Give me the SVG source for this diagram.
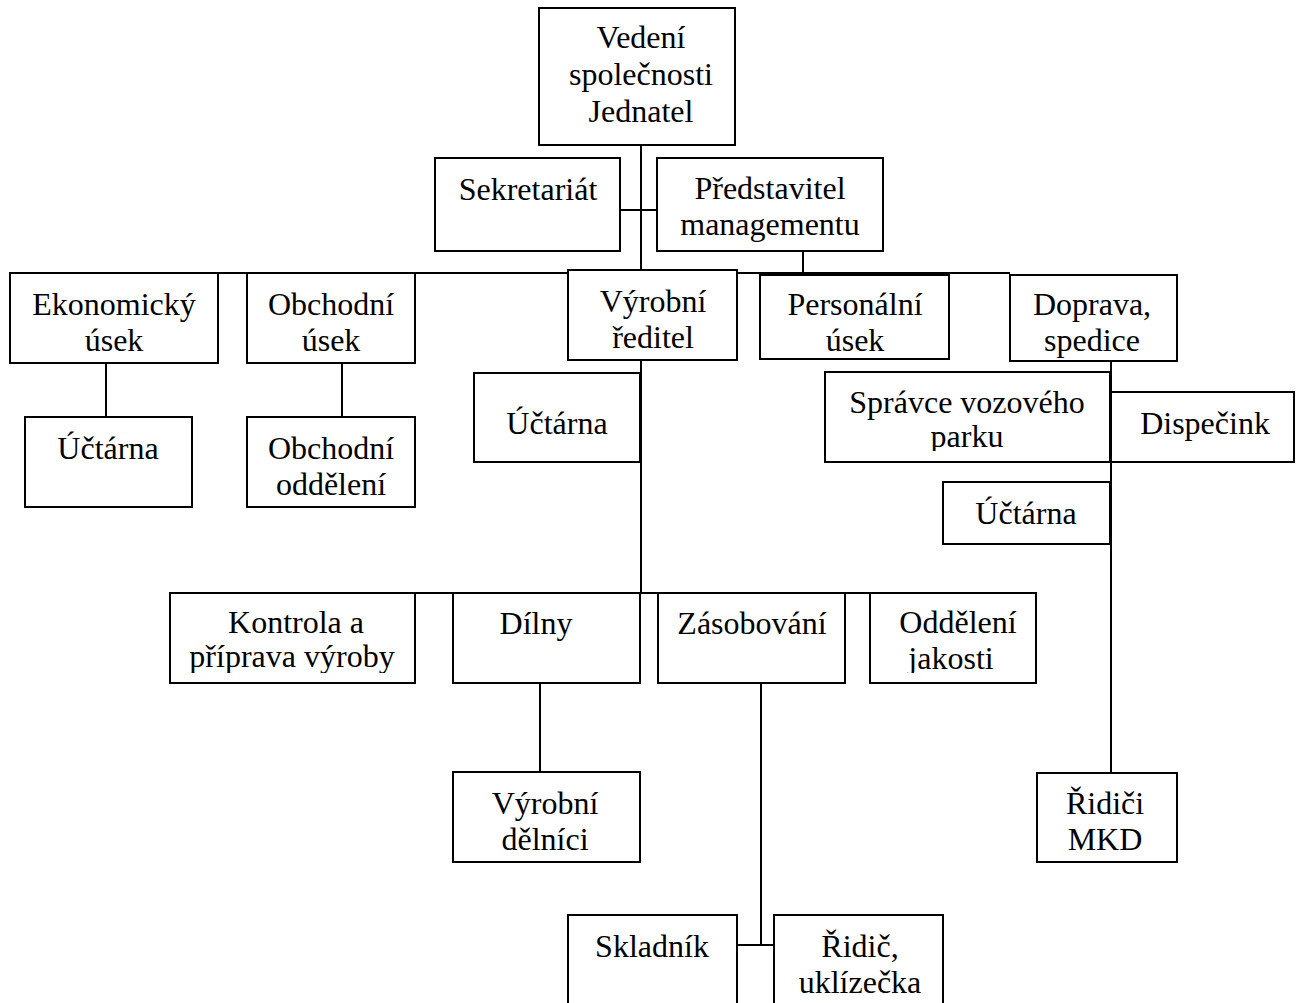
<svg xmlns="http://www.w3.org/2000/svg" width="1301" height="1003" viewBox="0 0 1301 1003">
<style>
.b{fill:#fff;stroke:#000;stroke-width:2}
.c{fill:none;stroke:#000;stroke-width:2}
text{font-family:"Liberation Serif","Times New Roman",serif;font-size:32px;fill:#000;text-anchor:middle}
</style>
<defs>
<clipPath id="cp1"><rect x="825" y="372" width="285" height="79"/></clipPath>
<clipPath id="cp2"><rect x="170" y="593" width="245" height="80"/></clipPath>
<clipPath id="cp3"><rect x="870" y="593" width="165" height="80"/></clipPath>
</defs>
<rect width="1301" height="1003" fill="#fff"/>
<g id="connectors">
<path class="c" d="M641,145V593"/>
<path class="c" d="M620,210H657"/>
<path class="c" d="M803,251V273"/>
<path class="c" d="M10,273H1010"/>
<path class="c" d="M106,363V417"/>
<path class="c" d="M342,360V417"/>
<path class="c" d="M170,593H1035"/>
<path class="c" d="M540,683V772"/>
<path class="c" d="M761,683V945"/>
<path class="c" d="M737,945H774"/>
<path class="c" d="M1111,361V773"/>
</g>
<g id="n_vedeni"><rect class="b" x="539" y="8" width="196" height="137"/><text x="641" y="48">Vedení</text><text x="641" y="85">společnosti</text><text x="641" y="122">Jednatel</text></g>
<g id="n_sekretariat"><rect class="b" x="435" y="158" width="185" height="93"/><text x="528" y="200">Sekretariát</text></g>
<g id="n_predstavitel"><rect class="b" x="657" y="158" width="226" height="93"/><text x="770" y="199">Představitel</text><text x="770" y="235">managementu</text></g>
<g id="n_ekonomicky"><rect class="b" x="10" y="273" width="208" height="90"/><text x="114" y="315">Ekonomický</text><text x="114" y="351">úsek</text></g>
<g id="n_obchodni"><rect class="b" x="247" y="273" width="168" height="90"/><text x="331" y="315">Obchodní</text><text x="331" y="351">úsek</text></g>
<g id="n_vyrobni"><rect class="b" x="568" y="270" width="169" height="90"/><text x="653" y="312">Výrobní</text><text x="653" y="348">ředitel</text></g>
<g id="n_personalni"><rect class="b" x="760" y="275" width="189" height="84"/><text x="855" y="315">Personální</text><text x="855" y="351">úsek</text></g>
<g id="n_doprava"><rect class="b" x="1010" y="275" width="167" height="86"/><text x="1092" y="315">Doprava,</text><text x="1092" y="351">spedice</text></g>
<g id="n_uctarna1"><rect class="b" x="25" y="417" width="167" height="90"/><text x="108" y="459">Účtárna</text></g>
<g id="n_obch_odd"><rect class="b" x="247" y="417" width="168" height="90"/><text x="331" y="459">Obchodní</text><text x="331" y="495">oddělení</text></g>
<g id="n_uctarna2"><rect class="b" x="474" y="373" width="166" height="89"/><text x="557" y="434">Účtárna</text></g>
<g id="n_spravce"><rect class="b" x="825" y="372" width="285" height="90"/><g clip-path="url(#cp1)"><text x="967" y="413">Správce vozového</text><text x="967" y="447">parku</text></g></g>
<g id="n_dispecink"><rect class="b" x="1111" y="392" width="183" height="70"/><text x="1205" y="434">Dispečink</text></g>
<g id="n_uctarna3"><rect class="b" x="943" y="482" width="167" height="62"/><text x="1026" y="524">Účtárna</text></g>
<g id="n_kontrola"><rect class="b" x="170" y="593" width="245" height="90"/><g clip-path="url(#cp2)"><text x="296" y="633">Kontrola a</text><text x="292" y="667">příprava výroby</text></g></g>
<g id="n_dilny"><rect class="b" x="453" y="593" width="187" height="90"/><text x="536" y="634">Dílny</text></g>
<g id="n_zasobovani"><rect class="b" x="658" y="593" width="187" height="90"/><text x="752" y="634">Zásobování</text></g>
<g id="n_jakost"><rect class="b" x="870" y="593" width="166" height="90"/><g clip-path="url(#cp3)"><text x="958" y="633">Oddělení</text><text x="951" y="669">jakosti</text></g></g>
<g id="n_delnici"><rect class="b" x="453" y="772" width="187" height="90"/><text x="545" y="814">Výrobní</text><text x="545" y="850">dělníci</text></g>
<g id="n_ridici"><rect class="b" x="1037" y="773" width="140" height="89"/><text x="1105" y="814">Řidiči</text><text x="1105" y="850">MKD</text></g>
<g id="n_skladnik"><rect class="b" x="568" y="915" width="169" height="100"/><text x="652" y="957">Skladník</text></g>
<g id="n_ridic"><rect class="b" x="774" y="915" width="169" height="100"/><text x="860" y="957">Řidič,</text><text x="860" y="993">uklízečka</text></g>
</svg>
